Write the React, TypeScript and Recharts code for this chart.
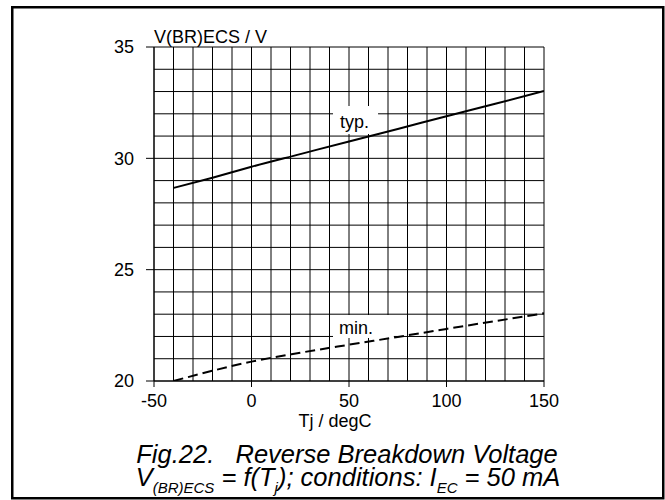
import React from 'react';
import { LineChart, Line, XAxis, YAxis, ReferenceLine, ReferenceArea } from 'recharts';

// Junction temperature (degC)
const tempC = [-40, -20, 0, 25, 50, 75, 100, 125, 150];
// V(BR)ECS typical (V)
const vTyp = [28.67, 29.13, 29.62, 30.19, 30.76, 31.32, 31.89, 32.45, 33.02];
// V(BR)ECS minimum (V)
const vMin = [20.0, 20.46, 20.87, 21.27, 21.63, 21.98, 22.34, 22.69, 23.04];

const xTicks = [-50, 0, 50, 100, 150];
const yTicks = [20, 25, 30, 35];
const xGrid = [-50, -40, -30, -20, -10, 0, 10, 20, 30, 40, 50, 60, 70, 80, 90, 100, 110, 120, 130, 140, 150];
const yGrid = [20, 21, 22, 23, 24, 25, 26, 27, 28, 29, 30, 31, 32, 33, 34, 35];

const data = tempC.map((t, i) => ({ t, typ: vTyp[i], min: vMin[i] }));

const FONT = 'Liberation Sans, Arial, Helvetica, sans-serif';

const typLabel = (props: any) => {
  const vb = props.viewBox || {};
  return (
    <text x={vb.x + 7} y={vb.y + 22} fontFamily={FONT} fontSize={18} fill="#000">
      typ.
    </text>
  );
};

const minLabel = (props: any) => {
  const vb = props.viewBox || {};
  return (
    <text x={vb.x + 6} y={vb.y + 19} fontFamily={FONT} fontSize={18} fill="#000">
      min.
    </text>
  );
};

const yLabel = (props: any) => {
  const vb = props.viewBox || {};
  return (
    <text x={vb.x + vb.width} y={vb.y - 4} fontFamily={FONT} fontSize={18} fill="#000">
      V(BR)ECS / V
    </text>
  );
};

const xLabel = (props: any) => {
  const vb = props.viewBox || {};
  return (
    <text x={vb.x + vb.width / 2 - 14} y={vb.y + 46} textAnchor="middle" fontFamily={FONT} fontSize={18} fill="#000">
      Tj / degC
    </text>
  );
};

export default function App() {
  return (
    <div style={{ position: 'absolute', left: 0, top: 0, width: 665, height: 500, background: '#fff' }}>
      <LineChart width={665} height={500} data={data} margin={{ top: 47, right: 121, bottom: 89, left: 104 }}>
        <XAxis
          dataKey="t"
          type="number"
          domain={[-50, 150]}
          ticks={xTicks}
          allowDataOverflow
          height={30}
          tickSize={6}
          tickMargin={7}
          axisLine={{ stroke: '#000' }}
          tickLine={{ stroke: '#000' }}
          tick={{ fontFamily: FONT, fontSize: 18, fill: '#000' }}
          label={{ content: xLabel }}
        />
        <YAxis
          type="number"
          domain={[20, 35]}
          ticks={yTicks}
          allowDataOverflow
          width={50}
          tickSize={8}
          tickMargin={12}
          axisLine={{ stroke: '#000' }}
          tickLine={{ stroke: '#000' }}
          tick={{ fontFamily: FONT, fontSize: 18, fill: '#000' }}
          label={{ content: yLabel }}
        />
        {xGrid.map((v) => (
          <ReferenceLine key={'gx' + v} x={v} stroke="#000" strokeWidth={1} zIndex={50} />
        ))}
        {yGrid.map((v) => (
          <ReferenceLine key={'gy' + v} y={v} stroke="#000" strokeWidth={1} zIndex={50} />
        ))}
        <ReferenceArea x1={41.8} x2={64.9} y1={31.09} y2={32.35} fill="#fff" fillOpacity={1} stroke="none" zIndex={60} label={{ content: typLabel }} />
        <ReferenceArea x1={41.8} x2={73} y1={21.93} y2={22.96} fill="#fff" fillOpacity={1} stroke="none" zIndex={60} label={{ content: minLabel }} />
        <Line dataKey="typ" type="monotone" stroke="#000" strokeWidth={2} dot={false} isAnimationActive={false} />
        <Line dataKey="min" type="monotone" stroke="#000" strokeWidth={2} strokeDasharray="10 5" dot={false} isAnimationActive={false} />
      </LineChart>
      <svg width={665} height={500} style={{ position: 'absolute', left: 0, top: 0, pointerEvents: 'none' }}>
        <rect x={12.25} y={7.25} width={651} height={491} fill="none" stroke="#000" strokeWidth={2.5} />
        <text x={347} y={463} textAnchor="middle" fontFamily={FONT} fontStyle="italic" fontSize={25.5} fill="#000" style={{ whiteSpace: 'pre' }}>
          {'Fig.22.   Reverse Breakdown Voltage'}
        </text>
        <text x={348} y={486} textAnchor="middle" fontFamily={FONT} fontStyle="italic" fontSize={25.5} fill="#000" style={{ whiteSpace: 'pre' }}>
          V<tspan dy={7} fontSize={15}>(BR)ECS</tspan>
          <tspan dy={-7}>{' = f(T'}</tspan>
          <tspan dy={7} fontSize={15}>j</tspan>
          <tspan dy={-7}>{'); conditions: I'}</tspan>
          <tspan dy={7} fontSize={15}>EC</tspan>
          <tspan dy={-7}>{' = 50 mA'}</tspan>
        </text>
      </svg>
    </div>
  );
}
